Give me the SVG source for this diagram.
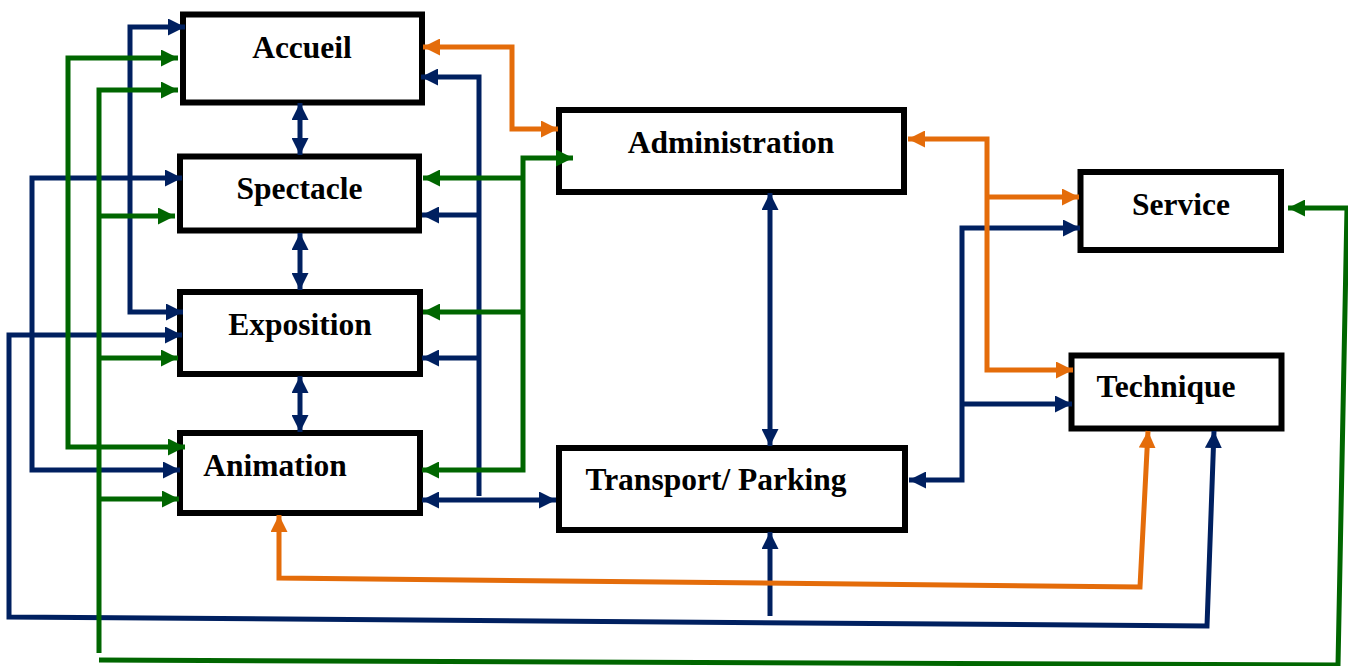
<svg xmlns="http://www.w3.org/2000/svg" width="1348" height="666" viewBox="0 0 1348 666">
<defs>
<style>
.box{fill:#fff;stroke:#000;stroke-width:6}
.lbl{font-family:"Liberation Serif","Times New Roman",serif;font-weight:bold;font-size:31.5px;fill:#000;text-anchor:middle}
.c{fill:none;stroke-width:5;stroke-linejoin:miter}
.b{stroke:#002060}
.g{stroke:#006600}
.o{stroke:#E46C0A}
</style>
<marker id="ab" markerUnits="userSpaceOnUse" markerWidth="17" markerHeight="17" refX="17" refY="8.5" orient="auto-start-reverse"><path d="M0,0 L17,8.5 L0,17 z" fill="#002060"/></marker>
<marker id="ag" markerUnits="userSpaceOnUse" markerWidth="17" markerHeight="17" refX="17" refY="8.5" orient="auto-start-reverse"><path d="M0,0 L17,8.5 L0,17 z" fill="#006600"/></marker>
<marker id="ao" markerUnits="userSpaceOnUse" markerWidth="17" markerHeight="17" refX="17" refY="8.5" orient="auto-start-reverse"><path d="M0,0 L17,8.5 L0,17 z" fill="#E46C0A"/></marker>
</defs>
<rect width="1348" height="666" fill="#fff"/>
<g id="accueil"><rect class="box" x="183" y="14.5" width="239" height="88"/><text class="lbl" x="302" y="58">Accueil</text></g>
<g id="spectacle"><rect class="box" x="180" y="156.5" width="239" height="74"/><text class="lbl" x="299.5" y="199">Spectacle</text></g>
<g id="exposition"><rect class="box" x="180" y="292" width="240" height="82"/><text class="lbl" x="300" y="335">Exposition</text></g>
<g id="animation"><rect class="box" x="180" y="433" width="240" height="80"/><text class="lbl" x="275" y="476">Animation</text></g>
<g id="administration"><rect class="box" x="559" y="110" width="345" height="82"/><text class="lbl" x="731" y="153">Administration</text></g>
<g id="transport"><rect class="box" x="559" y="448" width="346" height="82"/><text class="lbl" x="716" y="490">Transport/ Parking</text></g>
<g id="service"><rect class="box" x="1080.5" y="172" width="200.5" height="78"/><text class="lbl" x="1181" y="215">Service</text></g>
<g id="technique"><rect class="box" x="1071.5" y="355.5" width="210" height="73"/><text class="lbl" x="1166" y="397">Technique</text></g>
<g id="connectors">
<!-- blue -->
<path class="c b" d="M185,27 L130,27 L130,312 L183,312" marker-start="url(#ab)" marker-end="url(#ab)"/>
<path class="c b" d="M182,178 L32,178 L32,470 L180,470" marker-start="url(#ab)" marker-end="url(#ab)"/>
<path class="c b" d="M182,335 L9,335 L9,617 L1207,626 L1214,431" marker-start="url(#ab)" marker-end="url(#ab)"/>
<path class="c b" d="M770,616 L770,532" marker-end="url(#ab)"/>
<path class="c b" d="M421,77 L479,77 L479,496" marker-start="url(#ab)"/>
<path class="c b" d="M479,215 L422,215" marker-end="url(#ab)"/>
<path class="c b" d="M479,358 L422,358" marker-end="url(#ab)"/>
<path class="c b" d="M422,500 L556,500" marker-start="url(#ab)" marker-end="url(#ab)"/>
<path class="c b" d="M770,193 L770,446" marker-start="url(#ab)" marker-end="url(#ab)"/>
<path class="c b" d="M1080,228 L962,228 L962,480 L909,480" marker-start="url(#ab)" marker-end="url(#ab)"/>
<path class="c b" d="M962,404 L1072,404" marker-end="url(#ab)"/>
<path class="c b" d="M300,103 L300,155" marker-start="url(#ab)" marker-end="url(#ab)"/>
<path class="c b" d="M300,233 L300,290" marker-start="url(#ab)" marker-end="url(#ab)"/>
<path class="c b" d="M300,376 L300,432" marker-start="url(#ab)" marker-end="url(#ab)"/>
<!-- green -->
<path class="c g" d="M178,58 L68,58 L68,447 L185,447" marker-start="url(#ag)" marker-end="url(#ag)"/>
<path class="c g" d="M178,90 L99,90 L99,653" marker-start="url(#ag)"/>
<path class="c g" d="M99,216 L175,216" marker-end="url(#ag)"/>
<path class="c g" d="M99,358 L178,358" marker-end="url(#ag)"/>
<path class="c g" d="M99,499 L179,499" marker-end="url(#ag)"/>
<path class="c g" d="M99,660 L1338,665 L1347,208 L1288,208" marker-end="url(#ag)"/>
<path class="c g" d="M573,158 L523,158 L523,470 L422,470" marker-start="url(#ag)" marker-end="url(#ag)"/>
<path class="c g" d="M523,178 L423,178" marker-end="url(#ag)"/>
<path class="c g" d="M523,312 L423,312" marker-end="url(#ag)"/>
<!-- orange -->
<path class="c o" d="M423,47 L512,47 L512,129 L558,129" marker-start="url(#ao)" marker-end="url(#ao)"/>
<path class="c o" d="M908,139 L987,139 L987,370 L1073,370" marker-start="url(#ao)" marker-end="url(#ao)"/>
<path class="c o" d="M987,197 L1079,197" marker-end="url(#ao)"/>
<path class="c o" d="M279,515 L279,578 L1140,587 L1148,431" marker-start="url(#ao)" marker-end="url(#ao)"/>
</g>
</svg>
